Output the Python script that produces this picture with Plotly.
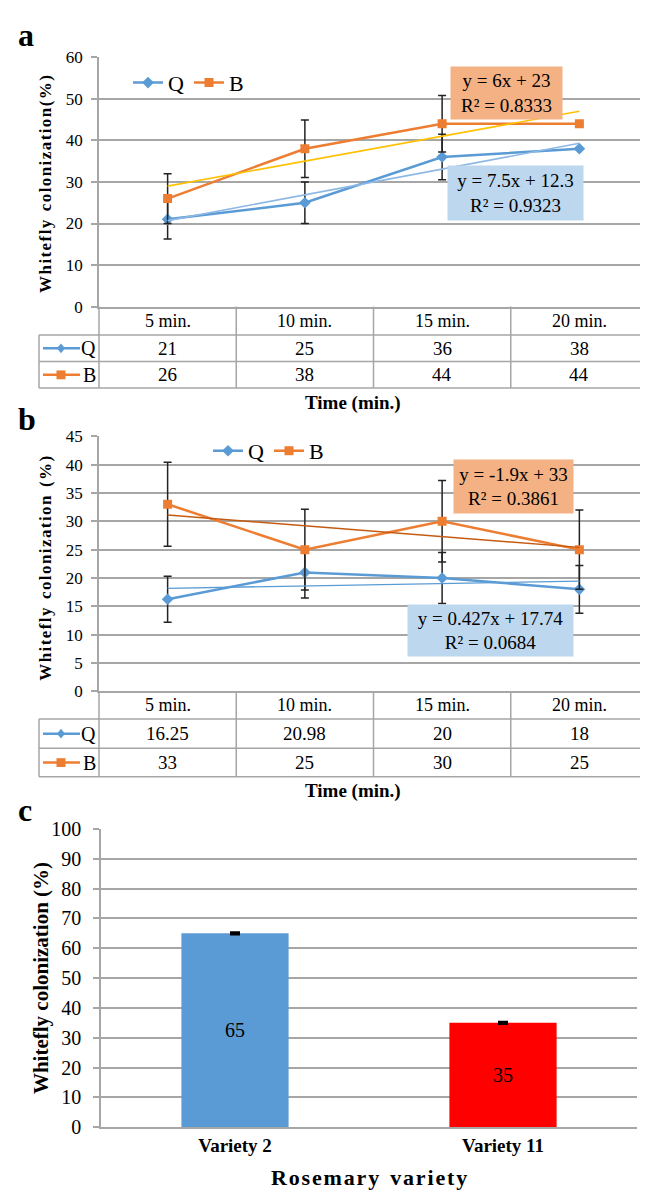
import plotly.graph_objects as go

# ---------------- data ----------------
time_labels = ["5 min.", "10 min.", "15 min.", "20 min."]

a_Q = [21, 25, 36, 38]
a_B = [26, 38, 44, 44]
a_Q_err = [4.7, 5.0, 5.5, 0]
a_B_err = [6.0, 6.9, 6.8, 0]
a_Q_trend = [20.7, 26.9, 33.1, 39.3]
a_B_trend = [29, 35, 41, 47]
a_Q_eq = "y = 7.5x + 12.3<br>R² = 0.9323"
a_B_eq = "y = 6x + 23<br>R² = 0.8333"

b_Q = [16.25, 20.98, 20, 18]
b_B = [33, 25, 30, 25]
b_Q_err = [4.05, 4.5, 4.5, 4.2]
b_B_err = [7.4, 7.1, 7.2, 7.0]
b_Q_trend = [18.17, 18.59, 19.02, 19.45]
b_B_trend = [31.1, 29.2, 27.3, 25.4]
b_Q_eq = "y = 0.427x + 17.74<br>R² = 0.0684"
b_B_eq = "y = -1.9x + 33<br>R² = 0.3861"

varieties = ["Variety 2", "Variety 11"]
c_vals = [65, 35]
c_err = [0.3, 0.3]
c_colors = ["#5B9BD5", "#FF0000"]

# ---------------- helpers ----------------
W, H = 648, 1199
FONT = "Liberation Serif, Times New Roman, serif"
BLUE = "#5B9BD5"
ORANGE = "#ED7D31"
GRID = "#A6A6A6"


def PX(x):
    return x / W


def PY(y):
    return 1 - y / H


fig = go.Figure()

# ---------------- panel a ----------------
fig.add_trace(go.Scatter(
    x=time_labels, y=a_Q, name="Q", mode="lines+markers",
    line=dict(color=BLUE, width=2.5), marker=dict(symbol="diamond", size=9, color=BLUE),
    error_y=dict(type="data", array=a_Q_err, color="#222222", thickness=1.5, width=4),
    xaxis="x", yaxis="y", legend="legend"))
fig.add_trace(go.Scatter(
    x=time_labels, y=a_B, name="B", mode="lines+markers",
    line=dict(color=ORANGE, width=2.5), marker=dict(symbol="square", size=9, color=ORANGE),
    error_y=dict(type="data", array=a_B_err, color="#222222", thickness=1.5, width=4),
    xaxis="x", yaxis="y", legend="legend"))
fig.add_trace(go.Scatter(
    x=time_labels, y=a_Q_trend, mode="lines", showlegend=False,
    line=dict(color="#8DB8E6", width=1.6), xaxis="x", yaxis="y", hoverinfo="skip"))
fig.add_trace(go.Scatter(
    x=time_labels, y=a_B_trend, mode="lines", showlegend=False,
    line=dict(color="#FFC000", width=1.6), xaxis="x", yaxis="y", hoverinfo="skip"))

# ---------------- panel b ----------------
fig.add_trace(go.Scatter(
    x=time_labels, y=b_Q, name="Q", mode="lines+markers",
    line=dict(color=BLUE, width=2.5), marker=dict(symbol="diamond", size=9, color=BLUE),
    error_y=dict(type="data", array=b_Q_err, color="#222222", thickness=1.5, width=4),
    xaxis="x2", yaxis="y2", legend="legend2"))
fig.add_trace(go.Scatter(
    x=time_labels, y=b_B, name="B", mode="lines+markers",
    line=dict(color=ORANGE, width=2.5), marker=dict(symbol="square", size=9, color=ORANGE),
    error_y=dict(type="data", array=b_B_err, color="#222222", thickness=1.5, width=4),
    xaxis="x2", yaxis="y2", legend="legend2"))
fig.add_trace(go.Scatter(
    x=time_labels, y=b_Q_trend, mode="lines", showlegend=False,
    line=dict(color=BLUE, width=1.4), xaxis="x2", yaxis="y2", hoverinfo="skip"))
fig.add_trace(go.Scatter(
    x=time_labels, y=b_B_trend, mode="lines", showlegend=False,
    line=dict(color="#C55A11", width=1.4), xaxis="x2", yaxis="y2", hoverinfo="skip"))

# ---------------- panel c ----------------
fig.add_trace(go.Bar(
    x=varieties, y=c_vals, marker=dict(color=c_colors, line=dict(width=0)),
    width=0.4, text=[str(v) for v in c_vals], textposition="inside",
    insidetextanchor="middle", textfont=dict(family=FONT, size=20, color="black"),
    error_y=dict(type="data", array=c_err, color="black", thickness=2.5, width=5),
    showlegend=False, xaxis="x3", yaxis="y3"))

# ---------------- axes ----------------
common_x = dict(type="category", categoryarray=time_labels, range=[-0.5, 3.5],
                showgrid=False, showticklabels=False, ticks="", showline=True,
                linecolor=GRID, linewidth=1.5, zeroline=False, fixedrange=True)
common_y = dict(showgrid=True, gridcolor=GRID, gridwidth=1.5, showline=True,
                linecolor=GRID, linewidth=1.5, ticks="outside", ticklen=6,
                tickcolor=GRID, tickwidth=1.5, zeroline=False,
                tickfont=dict(family=FONT, size=17, color="black"),
                ticklabelstandoff=5)

fig.update_layout(
    xaxis=dict(domain=[PX(91), PX(640)], anchor="y", **common_x),
    yaxis=dict(domain=[PY(293), PY(39)], anchor="x", range=[0, 60], dtick=10, **common_y),
    xaxis2=dict(domain=[PX(91), PX(640)], anchor="y2", **common_x),
    yaxis2=dict(domain=[PY(685), PY(425)], anchor="x2", range=[0, 45], dtick=5, **common_y),
    xaxis3=dict(domain=[PX(93), PX(629)], anchor="y3", type="category",
                categoryarray=varieties, range=[-0.5, 1.5], showgrid=False,
                showline=True, linecolor=GRID, linewidth=1.5, ticks="",
                tickfont=dict(family=FONT, size=19, color="black", weight="bold")),
    yaxis3=dict(domain=[PY(1129), PY(825)], anchor="x3", range=[0, 100], dtick=10,
                showgrid=True, gridcolor=GRID, gridwidth=1.5, showline=True,
                linecolor=GRID, linewidth=1.5, ticks="outside", ticklen=6,
                tickcolor=GRID, tickwidth=1.5, zeroline=False,
                tickfont=dict(family=FONT, size=20, color="black"),
                ticklabelstandoff=8),
)

# ---------------- legends ----------------
fig.update_layout(
    legend=dict(x=PX(120), y=PY(65), xanchor="left", yanchor="middle",
                orientation="h", bgcolor="rgba(0,0,0,0)",
                font=dict(family=FONT, size=22, color="black"), itemwidth=30),
    legend2=dict(x=PX(200), y=PY(440), xanchor="left", yanchor="middle",
                 orientation="h", bgcolor="rgba(0,0,0,0)",
                 font=dict(family=FONT, size=22, color="black"), itemwidth=30),
)

shapes = []
annotations = []


def line(x0, y0, x1, y1, color=GRID, width=1.5):
    shapes.append(dict(type="line", xref="paper", yref="paper",
                       x0=PX(x0), y0=PY(y0), x1=PX(x1), y1=PY(y1),
                       line=dict(color=color, width=width)))


def txt(text, x, y, xref="paper", size=16, bold=False, xanchor="center", **kw):
    annotations.append(dict(text=text, x=(PX(x) if xref == "paper" else x), y=PY(y),
                            xref=xref, yref="paper", xanchor=xanchor, yanchor="middle",
                            showarrow=False,
                            font=dict(family=FONT, size=size, color="black",
                                      weight=("bold" if bold else "normal")), **kw))


def legend_key(y, color, symbol):
    line(35, y, 72, y, color=color, width=2.5)
    cx, cy = 53, y
    if symbol == "diamond":
        path = (f"M {PX(cx)},{PY(cy-5)} L {PX(cx+4)},{PY(cy)} "
                f"L {PX(cx)},{PY(cy+5)} L {PX(cx-4)},{PY(cy)} Z")
    else:
        path = (f"M {PX(cx-4.5)},{PY(cy-4.5)} L {PX(cx+4.5)},{PY(cy-4.5)} "
                f"L {PX(cx+4.5)},{PY(cy+4.5)} L {PX(cx-4.5)},{PY(cy+4.5)} Z")
    shapes.append(dict(type="path", xref="paper", yref="paper", path=path,
                       fillcolor=color, line=dict(color=color, width=0)))


def table(xref, top, r1, r2, r3, qvals, bvals):
    cols = [91, 228.25, 365.5, 502.75, 640]
    for cx in cols:
        line(cx, top, cx, r3)
    for ry in (r1, r2, r3):
        line(31, ry, 640, ry)
    line(31, r1, 31, r3)
    for lab, qv, bv in zip(time_labels, qvals, bvals):
        txt(lab, lab, (top + r1) / 2, xref=xref, size=18)
        txt(f"{qv:g}", lab, (r1 + r2) / 2, xref=xref, size=19)
        txt(f"{bv:g}", lab, (r2 + r3) / 2, xref=xref, size=19)
    legend_key((r1 + r2) / 2, BLUE, "diamond")
    legend_key((r2 + r3) / 2, ORANGE, "square")
    txt("Q", 90, (r1 + r2) / 2, size=20, xanchor="right")
    txt("B", 90, (r2 + r3) / 2, size=20, xanchor="right")


table("x", 293, 322, 349, 376, a_Q, a_B)
table("x2", 685, 713, 743, 772, b_Q, b_B)


def eqbox(text, x0, x1, y0, y1, color):
    annotations.append(dict(text=text, x=PX((x0 + x1) / 2), y=PY((y0 + y1) / 2),
                            xref="paper", yref="paper", xanchor="center", yanchor="middle",
                            showarrow=False, width=x1 - x0, height=y1 - y0, borderpad=0,
                            bgcolor=color, align="center",
                            font=dict(family=FONT, size=19, color="black")))


eqbox(a_B_eq, 443, 554, 49, 101, "#F4B183")
eqbox(a_Q_eq, 440, 575, 150, 204, "#BDD7EE")
eqbox(b_B_eq, 446, 565, 450, 503, "#F4B183")
eqbox(b_Q_eq, 400, 565, 597, 648, "#BDD7EE")

# panel letters
txt("a", 8, 16, size=32, bold=True, xanchor="left")
txt("b", 8, 407, size=32, bold=True, xanchor="left")
txt("c", 8, 806, size=32, bold=True, xanchor="left")

# axis titles
txt("Time (min.)", 345, 391, size=19, bold=True)
txt("Time (min.)", 345, 786, size=19, bold=True)
txt("R o s e m a r y&nbsp;&nbsp;v a r i e t y".replace(" ", "&#8202;"), 361, 1180, size=22, bold=True)
txt("W h i t e f l y&nbsp;&nbsp;c o l o n i z a t i o n ( % )".replace(" ", "&#8202;"),
    38, 168, size=17, bold=True, textangle=-90)
txt("W h i t e f l y&nbsp;&nbsp;c o l o n i z a t i o n&nbsp;&nbsp;( % )".replace(" ", "&#8202;"),
    38, 560, size=17, bold=True, textangle=-90)
txt("Whitefly colonization (%)", 33, 977, size=21, bold=True, textangle=-90)

fig.update_layout(
    width=W, height=H, autosize=False,
    margin=dict(l=0, r=0, t=0, b=0),
    paper_bgcolor="white", plot_bgcolor="white",
    shapes=shapes, annotations=annotations,
    font=dict(family=FONT, color="black"),
)

fig.write_html("out.html")
